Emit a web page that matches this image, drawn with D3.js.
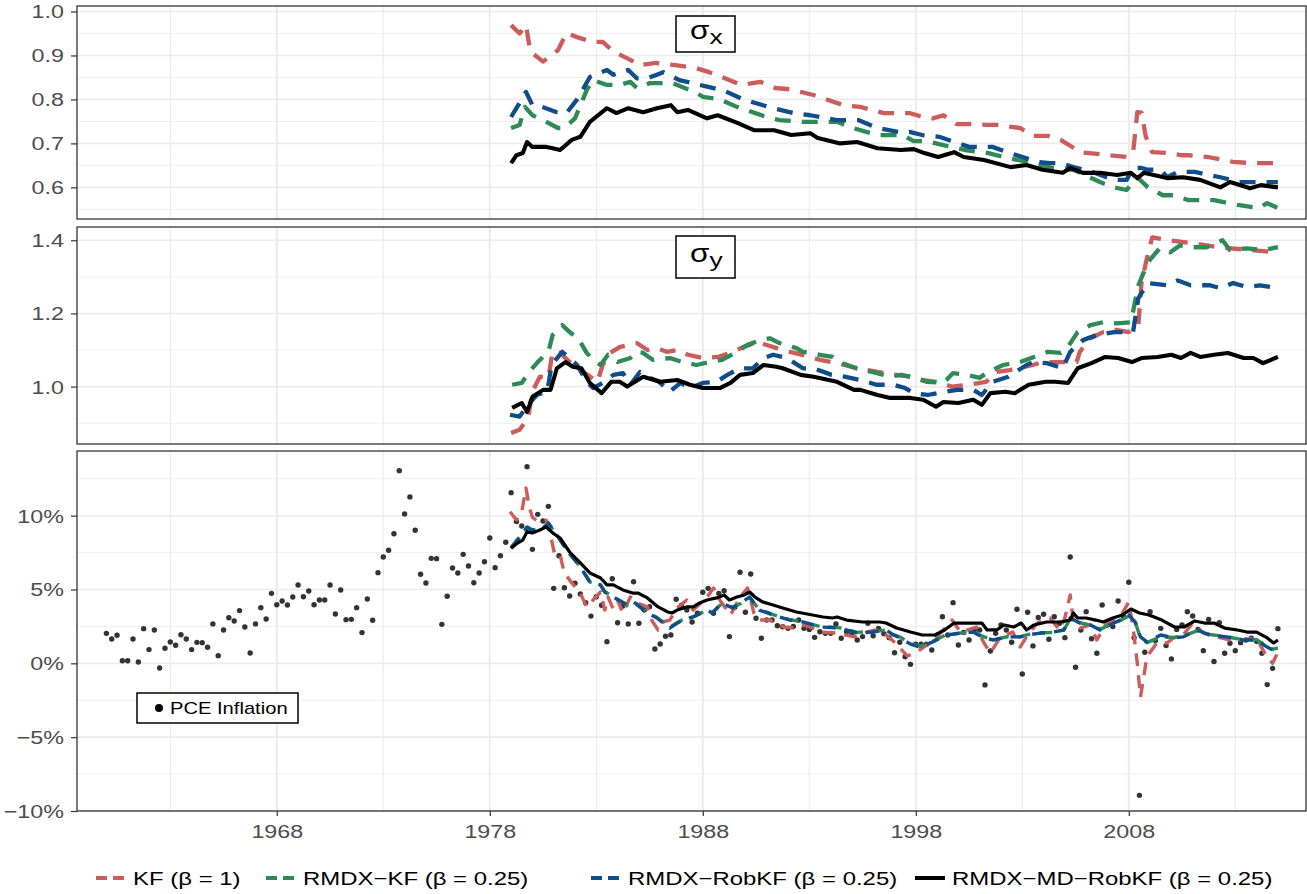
<!DOCTYPE html>
<html>
<head>
<meta charset="utf-8">
<title>Filter estimates</title>
<script src="https://d3js.org/d3.v7.min.js"></script>
<style>
  body { margin: 0; background: #fff; }
  text { font-family: "Liberation Sans", Arial, sans-serif; }
</style>
</head>
<body>
<svg width="1307" height="894"></svg>
<script>
// ---- data ----------------------------------------------------------------
var tickYears = [1968, 1978, 1988, 1998, 2008];
var minorYears = [1963, 1973, 1983, 1993, 2003, 2013];
var seriesNames = ["KF (\u03b2 = 1)", "RMDX\u2212KF (\u03b2 = 0.25)", "RMDX\u2212RobKF (\u03b2 = 0.25)", "RMDX\u2212MD\u2212RobKF (\u03b2 = 0.25)"];
var seriesColors = ["#CD5C5C", "#2E8B57", "#104E8B", "#000000"];

// sigma_x
var kfSx = [[1979.0,0.969],[1979.4,0.95],[1979.7,0.969],[1979.9,0.909],[1980.5,0.886],[1981.2,0.912],[1981.6,0.951],[1982.2,0.94],[1982.8,0.931],[1983.3,0.931],[1983.8,0.909],[1984.6,0.89],[1985.0,0.878],[1985.8,0.883],[1986.7,0.878],[1987.7,0.871],[1988.3,0.862],[1988.9,0.851],[1989.8,0.833],[1990.7,0.84],[1991.4,0.826],[1992.1,0.823],[1993.2,0.81],[1994.6,0.787],[1995.4,0.783],[1996.5,0.769],[1997.7,0.769],[1998.2,0.762],[1998.8,0.757],[1999.3,0.764],[1999.9,0.744],[2000.7,0.744],[2001.3,0.742],[2001.8,0.742],[2002.9,0.735],[2003.5,0.717],[2004.2,0.717],[2004.8,0.708],[2005.4,0.69],[2005.7,0.68],[2007.1,0.673],[2007.9,0.669],[2008.2,0.678],[2008.4,0.771],[2008.6,0.77],[2008.8,0.715],[2009.1,0.68],[2009.8,0.678],[2010.5,0.673],[2010.8,0.673],[2011.7,0.669],[2012.9,0.658],[2013.8,0.655],[2014.2,0.655],[2015.0,0.655]];
var rkfSx = [[1979.0,0.735],[1979.4,0.742],[1979.65,0.783],[1980.0,0.764],[1980.5,0.753],[1981.2,0.735],[1981.5,0.735],[1982.0,0.757],[1982.55,0.821],[1982.85,0.844],[1983.5,0.833],[1984.1,0.833],[1984.6,0.84],[1984.9,0.826],[1985.5,0.837],[1986.0,0.837],[1986.6,0.837],[1987.7,0.815],[1988.0,0.806],[1988.8,0.8],[1989.6,0.783],[1991.0,0.76],[1991.6,0.753],[1992.7,0.749],[1994.3,0.749],[1995.05,0.735],[1996.2,0.719],[1997.4,0.719],[1997.9,0.705],[1998.5,0.705],[1999.3,0.696],[2000.4,0.684],[2001.4,0.678],[2002.3,0.667],[2003.55,0.655],[2004.4,0.644],[2005.4,0.64],[2006.65,0.612],[2007.3,0.6],[2007.9,0.594],[2008.4,0.623],[2008.9,0.6],[2009.6,0.582],[2010.1,0.582],[2010.8,0.571],[2012.0,0.571],[2013.1,0.56],[2014.1,0.553],[2014.5,0.564],[2015.0,0.553]];
var rrobSx = [[1979.0,0.76],[1979.25,0.78],[1979.7,0.817],[1980.0,0.787],[1980.45,0.783],[1981.15,0.771],[1981.6,0.769],[1982.1,0.8],[1982.7,0.851],[1983.5,0.867],[1983.8,0.856],[1984.5,0.867],[1984.9,0.848],[1985.4,0.848],[1986.15,0.862],[1986.9,0.844],[1988.2,0.829],[1988.95,0.821],[1989.9,0.8],[1991.3,0.78],[1992.25,0.769],[1993.05,0.764],[1994.3,0.753],[1995.3,0.753],[1996.2,0.735],[1997.4,0.724],[1997.7,0.726],[1998.3,0.719],[1999.1,0.715],[2000.5,0.692],[2001.15,0.692],[2001.6,0.692],[2002.3,0.68],[2003.7,0.658],[2004.3,0.655],[2004.8,0.655],[2005.4,0.646],[2006.3,0.635],[2007.3,0.617],[2007.9,0.617],[2008.2,0.644],[2008.6,0.644],[2008.9,0.64],[2009.5,0.64],[2009.8,0.623],[2010.3,0.635],[2011.1,0.635],[2012.3,0.623],[2013.2,0.612],[2014.2,0.612],[2015.0,0.612]];
var rmdSx = [[1979.0,0.655],[1979.25,0.673],[1979.55,0.678],[1979.75,0.703],[1980.0,0.692],[1980.65,0.692],[1980.95,0.689],[1981.3,0.685],[1981.85,0.708],[1982.25,0.715],[1982.7,0.749],[1983.5,0.78],[1983.95,0.769],[1984.5,0.78],[1985.2,0.771],[1985.85,0.78],[1986.5,0.787],[1986.8,0.771],[1987.3,0.776],[1988.2,0.757],[1988.7,0.764],[1989.65,0.746],[1990.4,0.73],[1991.35,0.73],[1992.15,0.719],[1993.05,0.723],[1993.4,0.712],[1994.45,0.7],[1995.25,0.703],[1996.2,0.689],[1997.3,0.685],[1997.9,0.687],[1998.4,0.678],[1999.05,0.669],[1999.8,0.68],[2000.25,0.669],[2001.2,0.662],[2002.45,0.646],[2003.2,0.651],[2003.95,0.64],[2004.9,0.633],[2005.25,0.644],[2005.85,0.633],[2006.65,0.633],[2007.45,0.628],[2008.1,0.633],[2008.4,0.621],[2008.7,0.633],[2009.8,0.621],[2010.55,0.623],[2011.35,0.617],[2012.3,0.6],[2012.75,0.612],[2013.7,0.598],[2014.2,0.605],[2015.0,0.6]];

// sigma_y
var kfSy = [[1979.0,0.873],[1979.4,0.882],[1979.8,0.915],[1980.0,0.986],[1980.35,1.027],[1980.75,1.024],[1980.95,1.095],[1981.3,1.092],[1981.75,1.067],[1982.4,1.04],[1983.05,1.013],[1983.3,1.059],[1983.65,1.092],[1984.1,1.108],[1984.9,1.119],[1985.4,1.1],[1985.85,1.105],[1986.3,1.095],[1986.8,1.1],[1987.3,1.087],[1988.0,1.078],[1988.7,1.081],[1989.3,1.092],[1989.9,1.108],[1990.55,1.122],[1991.3,1.108],[1992.1,1.095],[1993.05,1.081],[1993.5,1.073],[1994.3,1.064],[1995.25,1.05],[1996.2,1.04],[1997.1,1.032],[1997.7,1.027],[1998.3,1.018],[1998.95,1.013],[1999.7,1.0],[2000.5,1.005],[2001.3,1.013],[2001.8,1.04],[2002.4,1.045],[2003.5,1.059],[2003.95,1.067],[2004.6,1.067],[2005.55,1.067],[2005.7,1.095],[2006.2,1.132],[2006.8,1.149],[2007.4,1.155],[2008.0,1.149],[2008.45,1.168],[2008.6,1.285],[2008.85,1.351],[2009.1,1.408],[2009.9,1.4],[2010.95,1.392],[2012.2,1.381],[2013.75,1.373],[2015.0,1.367]];
var rkfSy = [[1979.05,1.005],[1979.5,1.01],[1979.85,1.04],[1980.25,1.067],[1980.75,1.095],[1980.95,1.141],[1981.4,1.168],[1981.75,1.149],[1982.15,1.132],[1982.55,1.092],[1982.85,1.073],[1983.2,1.059],[1983.55,1.087],[1984.0,1.067],[1984.6,1.078],[1984.9,1.095],[1985.2,1.092],[1985.65,1.073],[1986.45,1.078],[1987.05,1.067],[1987.7,1.059],[1988.3,1.067],[1988.9,1.073],[1989.6,1.095],[1990.1,1.114],[1990.7,1.127],[1991.15,1.132],[1991.6,1.119],[1992.4,1.105],[1992.7,1.095],[1993.5,1.087],[1994.1,1.081],[1994.55,1.064],[1995.2,1.05],[1995.95,1.04],[1996.8,1.027],[1997.3,1.032],[1997.75,1.027],[1998.5,1.013],[1999.3,1.01],[1999.75,1.037],[2000.4,1.032],[2001.0,1.024],[2001.4,1.04],[2002.1,1.059],[2002.9,1.067],[2003.55,1.081],[2004.2,1.095],[2004.8,1.092],[2005.1,1.105],[2005.6,1.149],[2006.2,1.168],[2006.8,1.176],[2007.45,1.173],[2008.1,1.176],[2008.45,1.277],[2008.9,1.34],[2009.45,1.378],[2009.95,1.367],[2010.4,1.386],[2011.0,1.381],[2011.65,1.381],[2012.4,1.4],[2012.75,1.373],[2013.55,1.378],[2014.3,1.373],[2015.0,1.381]];
var rrobSy = [[1978.95,0.923],[1979.4,0.918],[1979.8,0.95],[1980.2,0.977],[1980.7,0.986],[1980.9,1.059],[1981.4,1.095],[1981.75,1.078],[1982.1,1.059],[1982.55,1.013],[1982.85,0.996],[1983.3,1.01],[1983.8,1.032],[1984.25,1.037],[1984.6,1.005],[1985.05,1.04],[1985.5,1.024],[1985.95,1.013],[1986.45,0.986],[1986.95,1.01],[1987.4,0.996],[1988.0,1.01],[1988.65,1.013],[1989.15,1.032],[1989.75,1.05],[1990.35,1.05],[1990.85,1.078],[1991.3,1.087],[1991.95,1.078],[1992.7,1.05],[1993.2,1.05],[1994.05,1.032],[1994.65,1.027],[1995.4,1.018],[1996.15,1.005],[1996.95,1.005],[1997.5,0.996],[1997.9,0.982],[1998.55,0.977],[1999.0,0.982],[1999.95,0.991],[2000.7,0.991],[2001.1,0.977],[2001.6,1.013],[2002.35,1.027],[2003.2,1.059],[2003.5,1.067],[2004.15,1.064],[2004.9,1.05],[2005.25,1.095],[2005.85,1.127],[2006.5,1.141],[2007.3,1.149],[2008.2,1.149],[2008.45,1.242],[2008.9,1.283],[2009.8,1.277],[2010.3,1.29],[2010.9,1.277],[2011.8,1.277],[2012.3,1.269],[2012.9,1.283],[2013.55,1.272],[2014.15,1.277],[2015.0,1.269]];
var rmdSy = [[1979.05,0.942],[1979.5,0.955],[1979.75,0.931],[1980.0,0.972],[1980.5,0.991],[1980.85,0.991],[1981.15,1.05],[1981.55,1.067],[1981.9,1.054],[1982.3,1.05],[1982.7,1.01],[1983.25,0.982],[1983.7,1.013],[1984.1,1.013],[1984.45,1.0],[1985.2,1.027],[1986.0,1.013],[1986.8,1.018],[1987.4,1.005],[1988.0,0.996],[1988.8,0.996],[1989.3,1.01],[1989.75,1.032],[1990.35,1.037],[1990.85,1.059],[1991.45,1.054],[1991.75,1.05],[1992.6,1.032],[1993.2,1.027],[1994.3,1.013],[1995.1,0.991],[1995.4,0.991],[1996.2,0.977],[1996.8,0.969],[1997.75,0.969],[1998.35,0.964],[1998.95,0.945],[1999.3,0.958],[2000.0,0.955],[2000.7,0.964],[2001.1,0.95],[2001.5,0.982],[2002.2,0.986],[2002.65,0.982],[2003.3,1.005],[2004.1,1.013],[2004.55,1.013],[2005.15,1.01],[2005.6,1.05],[2006.25,1.064],[2006.9,1.081],[2007.5,1.078],[2008.15,1.067],[2008.6,1.078],[2009.35,1.081],[2010.0,1.087],[2010.45,1.078],[2010.9,1.092],[2011.35,1.081],[2012.0,1.087],[2012.65,1.092],[2013.4,1.078],[2013.85,1.078],[2014.3,1.064],[2015.0,1.081]];

// inflation estimates (%)
var kfPi = [[1978.95,10.27],[1979.25,9.71],[1979.5,10.27],[1979.7,11.87],[1979.85,10.6],[1980.0,9.9],[1980.25,9.6],[1980.65,9.7],[1980.9,8.35],[1981.05,7.34],[1981.3,7.34],[1981.5,6.12],[1981.85,5.45],[1982.25,4.76],[1982.55,3.82],[1982.85,4.29],[1983.2,4.83],[1983.4,3.61],[1983.55,4.49],[1983.75,3.82],[1983.95,4.43],[1984.25,3.41],[1984.6,4.49],[1984.9,4.09],[1985.4,3.82],[1985.6,2.93],[1985.9,2.26],[1986.1,2.8],[1986.45,2.93],[1986.8,3.75],[1987.25,4.29],[1987.55,3.61],[1988.2,4.49],[1988.5,5.1],[1988.8,4.29],[1989.3,3.27],[1989.75,4.49],[1990.1,5.1],[1990.4,3.41],[1990.65,2.93],[1991.15,2.93],[1991.8,2.46],[1992.25,2.39],[1992.85,2.6],[1993.5,2.12],[1994.3,2.05],[1995.1,1.79],[1995.7,2.12],[1996.3,2.3],[1996.95,1.5],[1997.6,0.5],[1998.05,0.76],[1998.65,1.38],[1999.3,2.26],[1999.7,2.93],[2000.1,2.12],[2000.85,2.46],[2001.2,1.38],[2001.5,0.7],[2001.95,1.72],[2002.55,2.12],[2002.9,1.1],[2003.2,1.79],[2003.7,2.73],[2004.3,3.07],[2004.75,2.26],[2005.0,3.07],[2005.25,4.63],[2005.4,2.73],[2005.7,2.39],[2006.2,2.6],[2006.5,1.58],[2006.95,2.73],[2007.6,3.14],[2008.0,4.16],[2008.2,2.46],[2008.4,0.0],[2008.55,-2.28],[2008.85,0.43],[2009.35,1.45],[2009.8,1.38],[2010.1,1.72],[2010.55,1.92],[2011.0,2.73],[2011.5,2.05],[2012.15,1.79],[2012.75,1.58],[2013.35,1.58],[2014.0,1.72],[2014.5,0.37],[2014.75,0.0],[2015.0,0.76]];
var rkfPi = [[1979.0,7.85],[1979.55,8.8],[1979.75,9.2],[1980.0,9.0],[1980.5,9.15],[1980.75,9.45],[1981.15,8.7],[1981.6,7.7],[1982.25,6.55],[1982.7,5.5],[1983.2,5.3],[1983.4,4.85],[1983.8,4.5],[1984.45,3.95],[1984.75,4.2],[1985.4,3.45],[1985.85,3.1],[1986.45,2.45],[1986.8,2.75],[1987.05,2.95],[1987.55,3.15],[1988.2,3.6],[1988.45,3.45],[1988.9,4.05],[1989.4,3.8],[1989.85,4.1],[1990.2,4.45],[1990.65,3.65],[1991.3,3.3],[1992.1,2.95],[1992.7,2.8],[1993.5,2.5],[1994.45,2.4],[1995.25,2.1],[1996.0,2.15],[1996.6,2.25],[1996.95,1.95],[1997.3,1.75],[1997.75,1.35],[1998.2,1.15],[1998.8,1.5],[1999.45,1.95],[2000.1,2.05],[2000.7,2.1],[2001.2,1.8],[2001.65,1.6],[2002.3,1.8],[2002.9,1.8],[2003.25,1.95],[2003.85,2.05],[2004.45,2.1],[2004.95,2.25],[2005.25,3.0],[2005.7,2.75],[2006.2,2.6],[2006.65,2.3],[2007.1,2.6],[2007.6,2.9],[2008.0,3.2],[2008.3,2.8],[2008.55,1.7],[2008.85,1.4],[2009.5,1.8],[2010.1,1.75],[2010.55,1.85],[2011.2,2.2],[2011.8,1.95],[2012.6,1.8],[2013.35,1.6],[2014.0,1.6],[2014.5,1.15],[2014.75,0.95],[2015.0,1.05]];
var rrobPi = [[1979.0,7.8],[1979.55,8.83],[1979.75,9.24],[1980.0,9.03],[1980.5,9.17],[1980.75,9.51],[1981.15,8.69],[1981.6,7.68],[1982.25,6.53],[1982.7,5.51],[1983.2,5.31],[1983.4,4.83],[1983.8,4.49],[1984.45,3.95],[1984.75,4.16],[1985.4,3.41],[1985.85,3.07],[1986.45,2.39],[1986.8,2.73],[1987.05,2.93],[1987.55,3.14],[1988.2,3.61],[1988.45,3.41],[1988.9,4.09],[1989.4,3.75],[1989.85,4.16],[1990.2,4.49],[1990.65,3.61],[1991.3,3.27],[1992.1,2.93],[1992.7,2.8],[1993.5,2.46],[1994.45,2.39],[1995.25,2.05],[1996.0,2.12],[1996.6,2.26],[1996.95,1.92],[1997.3,1.7],[1997.75,1.3],[1998.2,1.1],[1998.8,1.45],[1999.45,1.92],[2000.1,2.05],[2000.7,2.12],[2001.2,1.72],[2001.65,1.58],[2002.3,1.79],[2002.9,1.79],[2003.25,1.92],[2003.85,2.05],[2004.45,2.12],[2004.95,2.26],[2005.25,3.07],[2005.7,2.73],[2006.2,2.6],[2006.65,2.26],[2007.1,2.6],[2007.6,2.93],[2008.0,3.27],[2008.3,2.8],[2008.55,1.79],[2008.85,1.45],[2009.5,1.92],[2010.1,1.72],[2010.55,1.79],[2011.2,2.26],[2011.8,1.92],[2012.6,1.79],[2013.35,1.58],[2014.0,1.58],[2014.5,1.1],[2014.75,0.9],[2015.0,1.03]];
var rmdPi = [[1979.0,7.79],[1979.3,8.15],[1979.55,8.35],[1979.75,8.92],[1980.0,8.83],[1980.35,9.03],[1980.65,9.24],[1980.95,8.83],[1981.3,8.49],[1981.75,7.54],[1982.25,6.8],[1982.7,6.12],[1983.2,5.78],[1983.5,5.31],[1983.8,5.31],[1984.25,4.97],[1984.7,4.76],[1984.95,4.76],[1985.4,4.43],[1985.9,3.82],[1986.35,3.48],[1986.55,3.41],[1986.8,3.61],[1987.25,3.82],[1987.55,3.82],[1987.85,4.09],[1988.2,4.29],[1988.65,4.43],[1989.0,4.63],[1989.25,4.29],[1989.6,4.49],[1989.95,4.63],[1990.2,4.83],[1990.45,4.49],[1990.8,4.16],[1991.3,3.95],[1991.75,3.75],[1992.4,3.48],[1993.15,3.27],[1993.65,3.14],[1994.1,3.07],[1994.3,3.14],[1994.75,2.93],[1995.5,2.8],[1996.3,2.8],[1996.6,2.73],[1997.1,2.39],[1997.75,2.12],[1998.3,1.92],[1998.9,1.92],[1999.35,2.26],[1999.8,2.73],[2000.3,2.73],[2001.1,2.73],[2001.35,2.26],[2001.8,2.26],[2002.15,2.6],[2002.6,2.46],[2002.95,2.73],[2003.2,2.26],[2003.55,2.6],[2004.15,2.8],[2004.8,2.8],[2005.25,2.93],[2005.4,3.41],[2005.6,3.07],[2006.0,3.07],[2006.45,2.93],[2006.8,2.8],[2007.25,3.07],[2007.7,3.27],[2008.1,3.68],[2008.5,3.41],[2008.95,3.27],[2009.55,2.93],[2010.15,2.46],[2010.6,2.46],[2011.1,2.87],[2011.55,2.73],[2012.0,2.73],[2012.5,2.39],[2013.1,2.26],[2013.55,2.12],[2014.0,2.12],[2014.5,1.72],[2014.8,1.38],[2015.0,1.58]];

// quarterly PCE inflation (%), 1960Q1 .. 2015Q1
var pceStart = 1960;
var pceValues = [
  2.03, 1.65, 1.9, 0.18, 0.18, 1.65, 0.09, 2.35, 0.93, 2.26,
  -0.32, 1.02, 1.45, 1.22, 1.94, 1.65, 0.93, 1.42, 1.4, 1.09,
  2.67, 0.52, 2.26, 3.09, 2.87, 3.57, 2.46, 0.7, 2.67, 3.77,
  3.0, 4.74, 3.97, 4.22, 3.95, 4.49, 5.31, 4.51, 4.9, 3.97,
  4.29, 4.29, 5.31, 3.34, 4.97, 2.96, 2.98, 3.77, 2.08, 4.36,
  2.92, 6.14, 7.2, 7.66, 8.78, 13.05, 10.12, 11.27, 9.01, 6.03,
  5.44, 7.11, 7.09, 2.64, 4.54, 6.46, 6.12, 7.38, 6.59, 5.46,
  6.12, 6.88, 8.49, 6.48, 7.29, 8.2, 11.56, 9.6, 9.3, 13.32,
  7.72, 10.09, 9.64, 10.63, 5.08, 7.29, 5.12, 4.56, 5.42, 4.7,
  4.11, 3.2, 4.51, 3.93, 1.47, 5.73, 2.75, 3.88, 2.67, 5.53,
  2.71, 3.61, 3.84, 0.97, 1.31, 1.83, 1.92, 4.34, 3.93, 3.61,
  2.8, 3.39, 4.81, 5.08, 3.39, 4.74, 4.92, 1.81, 3.8, 6.17,
  3.46, 6.05, 3.05, 1.7, 2.93, 2.93, 2.55, 2.48, 2.37, 2.5,
  2.93, 2.37, 2.3, 1.76, 2.14, 2.03, 2.03, 2.67, 1.7, 2.14,
  2.03, 1.58, 1.81, 2.71, 1.87, 2.37, 2.0, 1.74, 0.72, 1.43,
  0.45, -0.07, 1.3, 1.29, 1.29, 0.9, 1.9, 3.16, 1.92, 4.11,
  1.24, 2.1, 1.58, 2.26, 2.26, -1.46, 0.84, 2.03, 2.6, 2.26,
  1.43, 3.66, -0.72, 3.46, 1.18, 3.1, 3.32, 1.63, 3.16, 2.71,
  1.74, 7.2, -0.27, 2.26, 3.5, 1.67, 0.68, 3.95, 2.6, 2.49,
  4.22, 3.16, 5.49, 1.74, -8.94, 0.75, 3.5, 1.54, 2.37, 1.2,
  0.3, 2.3, 2.6, 3.5, 3.21, 2.3, 0.86, 2.98, 0.12, 2.76,
  0.68, 1.36, 0.86, 1.4, 1.58, 1.7, 1.5, 0.68, -1.44, -0.34, 2.35
];
var pce = pceValues.map(function (v, i) { return [pceStart + i / 4, v]; });

// ---- layout --------------------------------------------------------------
var SX = 1.26;           // the picture is stretched sideways
var left = 77, right = 1306;
var svg = d3.select("svg");
svg.append("rect").attr("width", 1307).attr("height", 894).attr("fill", "#fff");

var x = d3.scaleLinear().domain([1958.62, 2016.32]).range([left, right]);

var panels = [
  { top: 6, bottom: 219, domain: [0.528, 1.0125], ticks: [0.6, 0.7, 0.8, 0.9, 1.0],
    minor: [0.55, 0.65, 0.75, 0.85, 0.95], fmt: d3.format(".1f"),
    series: [kfSx, rkfSx, rrobSx, rmdSx], lw: 4.3, dash: "16,11" },
  { top: 227, bottom: 444, domain: [0.843, 1.4363], ticks: [1.0, 1.2, 1.4],
    minor: [0.9, 1.1, 1.3], fmt: d3.format(".1f"),
    series: [kfSy, rkfSy, rrobSy, rmdSy], lw: 4.3, dash: "16,11" },
  { top: 451, bottom: 811, domain: [-10, 14.38], ticks: [-10, -5, 0, 5, 10],
    minor: [-7.5, -2.5, 2.5, 7.5, 12.5], fmt: function (d) { return (d < 0 ? "\u2212" + (-d) : d) + "%"; },
    series: [kfPi, rkfPi, rrobPi, rmdPi], lw: 3.4, dash: "13,9", dots: pce }
];

panels.forEach(function (p, pi) {
  var g = svg.append("g");
  var y = d3.scaleLinear().domain(p.domain).range([p.bottom, p.top]);

  g.selectAll(".hmin").data(p.minor).join("line")
    .attr("x1", left).attr("x2", right).attr("y1", y).attr("y2", y)
    .attr("stroke", "#ebebeb").attr("stroke-width", 0.8);
  g.selectAll(".vmin").data(minorYears).join("line")
    .attr("y1", p.top).attr("y2", p.bottom).attr("x1", x).attr("x2", x)
    .attr("stroke", "#ebebeb").attr("stroke-width", 1.1);
  g.selectAll(".hmaj").data(p.ticks).join("line")
    .attr("x1", left).attr("x2", right).attr("y1", y).attr("y2", y)
    .attr("stroke", "#ebebeb").attr("stroke-width", 1.6);
  g.selectAll(".vmaj").data(tickYears).join("line")
    .attr("y1", p.top).attr("y2", p.bottom).attr("x1", x).attr("x2", x)
    .attr("stroke", "#ebebeb").attr("stroke-width", 2);

  var clipId = "clip" + pi;
  g.append("clipPath").attr("id", clipId).append("rect")
    .attr("x", left).attr("y", p.top).attr("width", right - left).attr("height", p.bottom - p.top);
  var plot = g.append("g").attr("clip-path", "url(#" + clipId + ")");

  if (p.dots) {
    plot.selectAll("circle").data(p.dots).join("circle")
      .attr("cx", function (d) { return x(d[0]); })
      .attr("cy", function (d) { return y(d[1]); })
      .attr("r", 2.7).attr("fill", "#333");
  }

  var line = d3.line().x(function (d) { return x(d[0]); }).y(function (d) { return y(d[1]); });
  p.series.forEach(function (s, si) {
    plot.append("path").datum(s).attr("d", line)
      .attr("fill", "none").attr("stroke", seriesColors[si])
      .attr("stroke-width", si === 3 ? p.lw - 0.2 : p.lw)
      .attr("stroke-linejoin", "round")
      .attr("stroke-dasharray", si === 3 ? null : p.dash);
  });

  g.append("rect").attr("x", left).attr("y", p.top)
    .attr("width", right - left).attr("height", p.bottom - p.top)
    .attr("fill", "none").attr("stroke", "#333").attr("stroke-width", 1.3);

  var ax = g.append("g").attr("transform", "translate(" + left + ",0)")
    .call(d3.axisLeft(y).tickValues(p.ticks).tickFormat(p.fmt).tickSize(6));
  ax.select(".domain").remove();
  ax.selectAll(".tick line").attr("stroke", "#333").attr("stroke-width", 1.2);
  ax.selectAll(".tick text").attr("x", -13 / SX).attr("dy", "0.35em")
    .attr("transform", "scale(" + SX + ",1)")
    .attr("fill", "#4d4d4d").style("font-size", "18.5px").style("font-family", "Liberation Sans, Arial, sans-serif");

  if (pi === 2) {
    var xa = g.append("g").attr("transform", "translate(0," + p.bottom + ")")
      .call(d3.axisBottom(x).tickValues(tickYears).tickFormat(d3.format("d")).tickSize(5).tickPadding(9));
    xa.select(".domain").remove();
    xa.selectAll(".tick line").attr("stroke", "#333").attr("stroke-width", 1.2);
    xa.selectAll(".tick text").attr("transform", "scale(" + SX + ",1)")
      .attr("fill", "#4d4d4d").style("font-size", "18.5px").style("font-family", "Liberation Sans, Arial, sans-serif");
  }
});

// ---- panel labels --------------------------------------------------------
function stretched(sel, tx, ty) {
  return sel.attr("transform", "translate(" + tx + "," + ty + ") scale(" + SX + ",1)");
}
var labels = [
  { box: [676, 16, 59, 36], base: 38.5, sub: "x" },
  { box: [676, 236, 59, 42], base: 262, sub: "y" }
];
labels.forEach(function (l) {
  svg.append("rect").attr("x", l.box[0]).attr("y", l.box[1]).attr("width", l.box[2]).attr("height", l.box[3])
    .attr("fill", "#fff").attr("stroke", "#000").attr("stroke-width", 1.5);
  var t = stretched(svg.append("text"), 690, l.base).attr("fill", "#000");
  t.append("tspan").style("font-size", "25px").text("\u03c3");
  t.append("tspan").style("font-size", "21px").attr("dy", 5).text(l.sub);
});

svg.append("rect").attr("x", 137).attr("y", 693).attr("width", 161).attr("height", 30)
  .attr("fill", "#fff").attr("stroke", "#000").attr("stroke-width", 1.5);
svg.append("circle").attr("cx", 159).attr("cy", 708).attr("r", 4).attr("fill", "#000");
stretched(svg.append("text"), 170, 714).style("font-size", "16px").attr("fill", "#000").text("PCE Inflation");

// ---- legend --------------------------------------------------------------
var legKeyX = [96, 266, 591, 915];
var legY = 878;
seriesNames.forEach(function (name, i) {
  svg.append("line").attr("x1", legKeyX[i]).attr("x2", legKeyX[i] + 30)
    .attr("y1", legY).attr("y2", legY)
    .attr("stroke", seriesColors[i]).attr("stroke-width", 4)
    .attr("stroke-dasharray", i === 3 ? null : "11,6");
  stretched(svg.append("text"), legKeyX[i] + 37, legY + 7)
    .style("font-size", "19px").attr("fill", "#000").text(name);
});
</script>
</body>
</html>
